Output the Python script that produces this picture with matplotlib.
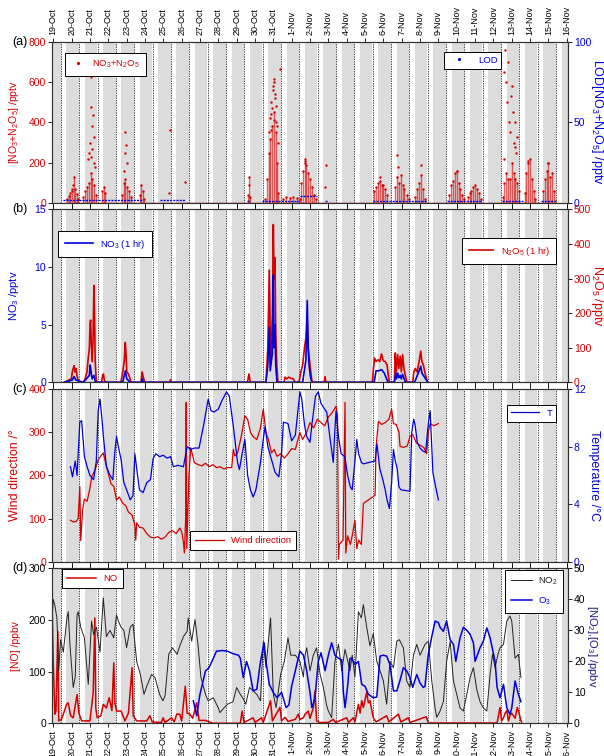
import matplotlib
matplotlib.use('Agg')
import matplotlib.pyplot as plt
from matplotlib.lines import Line2D

plt.rcParams['font.family'] = ['Liberation Sans', 'DejaVu Sans']
plt.rcParams['mathtext.fontset'] = 'custom'
plt.rcParams['mathtext.rm'] = 'Liberation Sans'
plt.rcParams['mathtext.it'] = 'Liberation Sans'

# === data (time = days since 19-Oct 00:00) ===
day_labels = ['19-Oct', '20-Oct', '21-Oct', '22-Oct', '23-Oct', '24-Oct', '25-Oct', '26-Oct',
              '27-Oct', '28-Oct', '29-Oct', '30-Oct', '31-Oct', '1-Nov', '2-Nov', '3-Nov',
              '4-Nov', '5-Nov', '6-Nov', '7-Nov', '8-Nov', '9-Nov', '10-Nov', '11-Nov',
              '12-Nov', '13-Nov', '14-Nov', '15-Nov', '16-Nov']

# (a) NO3+N2O5 dense core (pptv) and scattered high points
tot_t = [0.74, 0.84, 0.94, 1.04, 1.13, 1.2, 1.3, 1.36,
         1.64, 1.74, 1.84, 1.94, 2.04, 2.14, 2.24, 2.34,
         2.65, 2.75, 2.85,
         3.74, 3.84, 3.94, 4.04, 4.14, 4.24,
         4.73, 4.8, 4.9, 4.95,
         10.64, 10.69, 10.74,
         11.54, 11.64, 11.74, 11.84, 11.94, 12.04, 12.14, 12.21, 12.27,
         12.54, 12.7, 12.9, 13.1, 13.3, 13.45,
         13.5, 13.6, 13.7, 13.8, 13.9, 14.0, 14.1, 14.2, 14.3,
         17.5, 17.6, 17.7, 17.8, 17.9, 18.0, 18.1, 18.2,
         18.65, 18.75, 18.85, 18.95, 19.05, 19.15, 19.3, 19.4,
         19.75, 19.85, 19.95, 20.05, 20.15, 20.25,
         21.6, 21.7, 21.8, 21.9, 22.0, 22.1, 22.2, 22.3, 22.4,
         22.6, 22.7, 22.8, 22.9, 23.0, 23.1, 23.2, 23.3,
         24.5, 24.6, 24.7, 24.8, 24.9, 25.0, 25.1, 25.2, 25.3, 25.4,
         25.7, 25.8, 25.9, 26.0, 26.1, 26.2, 26.28,
         26.7, 26.8, 26.9, 27.0, 27.1, 27.2, 27.3]
tot_v = [20, 35, 50, 60, 130, 70, 45, 20,
         30, 60, 80, 100, 150, 120, 90, 40,
         60, 80, 50,
         40, 100, 120, 80, 60, 30,
         40, 90, 60, 20,
         40, 130, 30,
         20, 120, 250, 320, 380, 450, 350, 200, 50,
         20, 30, 25, 30, 25, 20,
         100, 160, 200, 190, 150, 120, 80, 40, 20,
         60, 80, 100, 110, 90, 90, 70, 40,
         80, 130, 100, 140, 90, 70, 40, 20,
         30, 70, 100, 140, 70, 20,
         40, 90, 110, 150, 160, 100, 70, 40, 20,
         30, 50, 60, 80, 90, 70, 50, 20,
         30, 100, 150, 120, 120, 200, 150, 120, 100, 60,
         50, 150, 200, 220, 120, 60, 20,
         60, 120, 160, 200, 130, 150, 60]
out_t = [1.1, 1.0, 2.04, 2.04, 2.18, 2.1, 2.0, 2.2, 1.95, 2.12, 2.22, 1.9, 2.3, 2.08,
         3.93, 3.95, 3.9, 4.0, 3.88, 6.36, 6.3, 7.18, 10.7,
         12.04, 12.06, 12.0, 11.98, 12.1, 11.9, 12.12, 11.8, 11.85, 12.15, 12.2, 11.75,
         12.25, 12.36, 12.08, 11.95, 12.02, 11.88,
         13.7, 13.75, 14.85, 14.83, 17.8, 18.75, 18.8, 20.05, 22.0,
         24.6, 24.65, 24.7, 24.75, 24.8, 24.85, 24.9, 25.0, 25.05, 25.1, 25.15, 25.2,
         25.25, 24.55, 24.95, 25.3, 25.9, 27.0]
out_v = [90, 70, 629, 479, 437, 380, 300, 330, 250, 270, 200, 220, 180, 230,
         354, 290, 250, 200, 160, 362, 50, 105, 90,
         617, 600, 580, 560, 540, 500, 480, 420, 440, 400, 380, 350,
         300, 665, 520, 470, 410, 360,
         220, 210, 190, 80, 130, 240, 180, 190, 160,
         650, 760, 600, 500, 700, 400, 350, 580, 450, 300, 280, 400,
         250, 220, 530, 330, 210, 200]
meas_start = [0.6]
meas_end = [27.4]

# (a) LOD (pptv, right axis)
lod_start = [0.55, 5.8, 10.55, 11.4, 13.45, 14.8, 17.45, 21.45, 24.45, 26.6]
lod_end = [4.9, 7.2, 10.75, 13.4, 14.4, 14.9, 20.4, 23.3, 25.6, 27.4]
lod_level = [1.5, 1.8, 1.2, 1.2, 4.0, 1.0, 1.3, 0.9, 0.9, 0.9]

# (b) 1-hr NO3 (pptv, left) and N2O5 (pptv, right)
n2o5_t = [0.6, 0.99, 1.04, 1.09, 1.14, 1.19, 1.24, 1.29, 1.39,
          1.64, 1.74, 1.84, 1.89, 1.97, 2.01, 2.04, 2.07, 2.12, 2.17, 2.22, 2.25, 2.29, 2.34, 2.39,
          2.64, 2.69, 2.74, 2.79, 2.89,
          3.69, 3.79, 3.87, 3.93, 3.97, 4.01, 4.09, 4.19, 4.24,
          4.79, 4.85, 4.91, 4.99,
          6.34, 6.39, 6.44,
          10.59, 10.67, 10.74,
          11.6, 11.7, 11.78, 11.83, 11.88, 11.95, 12.0, 12.04, 12.09, 12.13, 12.19, 12.25,
          12.59, 12.64, 12.74, 12.84, 12.94, 13.09, 13.19,
          13.4, 13.5, 13.6, 13.7, 13.78, 13.85, 13.9, 13.95, 14.02, 14.1, 14.15,
          14.78, 14.82, 14.87,
          17.4, 17.46, 17.52, 17.6, 17.7, 17.8, 17.9, 18.0, 18.1, 18.2, 18.27, 18.33,
          18.6, 18.65, 18.7, 18.78, 18.84, 18.92, 18.98, 19.05, 19.12, 19.2, 19.28,
          19.6, 19.66, 19.74, 19.84, 19.95, 20.04, 20.1, 20.18, 20.3, 20.42]
n2o5_v = [0, 10, 30, 40, 48, 30, 40, 20, 0,
          0, 10, 30, 60, 100, 170, 180, 120, 60, 120, 280, 200, 60, 10, 0,
          0, 20, 24, 5, 0,
          0, 30, 60, 115, 80, 30, 25, 10, 0,
          0, 30, 15, 0,
          0, 7, 0,
          0, 24, 0,
          0, 100, 324, 150, 60, 200, 456, 300, 360, 150, 50, 0,
          0, 15, 10, 15, 12, 10, 0,
          0, 30, 50, 100, 130, 180, 100, 75, 40, 5, 0,
          0, 16, 0,
          0, 40, 70, 60, 65, 60, 82, 62, 60, 50, 20, 0,
          0, 85, 30, 80, 40, 75, 30, 80, 40, 20, 0,
          0, 30, 40, 30, 60, 90, 60, 50, 20, 0]
no3_t = [0.6, 1.04, 1.14, 1.24, 1.64, 1.97, 2.01, 2.04, 2.12, 2.22, 2.3,
         3.79, 3.93, 4.01, 4.2, 4.79, 4.85, 4.91,
         11.6, 11.7, 11.78, 11.83, 11.95, 12.0, 12.04, 12.09, 12.13, 12.2,
         13.6, 13.78, 13.85, 13.9, 13.95, 14.02, 14.1,
         17.5, 17.6, 17.75, 17.9, 18.05, 18.25,
         18.6, 18.68, 18.72, 18.78, 18.85, 18.92, 18.98, 19.05, 19.2,
         19.7, 19.95, 20.04, 20.1, 20.3, 20.42]
no3_v = [0, 0.2, 0.5, 0.2, 0, 0.6, 1.5, 1.2, 0.3, 0.6, 0,
         0, 1.0, 0.3, 0, 0, 0.3, 0,
         0, 1.5, 4.8, 1.0, 2.5, 9.3, 3.0, 5.0, 1.5, 0,
         0, 2.0, 7.1, 3.0, 1.5, 0.5, 0,
         0, 1.0, 1.0, 1.1, 0.8, 0,
         0, 0.8, 0.3, 0.8, 0.4, 0.6, 0.3, 0.7, 0,
         0, 1.0, 1.4, 0.8, 0.3, 0]

# (c) wind direction (deg) and temperature (degC)
wind_t = [0.94, 1.1, 1.25, 1.36, 1.45, 1.5, 1.6, 1.7, 1.85, 2.0, 2.1, 2.3, 2.45, 2.6, 2.73, 2.85,
          3.0, 3.15, 3.3, 3.45, 3.6, 3.8, 3.95, 4.1, 4.3, 4.45, 4.5, 4.55, 4.7, 4.9, 5.1, 5.3,
          5.5, 5.7, 5.9, 6.1, 6.3, 6.5, 6.7, 6.9, 7.0, 7.1, 7.15, 7.22, 7.25, 7.28, 7.4, 7.5,
          7.7, 7.9, 8.1, 8.3, 8.5, 8.7, 8.9, 9.1, 9.3, 9.5, 9.73, 9.82, 9.9, 10.05, 10.25,
          10.45, 10.6, 10.75, 10.9, 11.1, 11.3, 11.45, 11.6, 11.75, 11.9, 12.05, 12.2, 12.4,
          12.6, 12.8, 13.0, 13.2, 13.45, 13.6, 13.82, 14.0, 14.2, 14.4, 14.6, 14.8, 15.0,
          15.2, 15.42, 15.5, 15.55, 15.6, 15.8, 15.91, 15.95, 16.05, 16.2, 16.3, 16.45,
          16.55, 16.65, 16.8, 16.91, 17.55, 17.6, 17.73, 17.9, 18.1, 18.3, 18.45, 18.55,
          18.7, 18.85, 18.91, 19.1, 19.3, 19.45, 19.6, 19.8, 20.0, 20.2, 20.36, 20.45,
          20.55, 20.75, 21.0]
wind_v = [96, 92, 93, 100, 174, 49, 120, 145, 140, 170, 197, 215, 236, 245, 252, 230,
          205, 180, 175, 143, 150, 135, 130, 115, 108, 85, 50, 90, 80, 78, 65, 57,
          55, 58, 52, 57, 68, 72, 65, 78, 70, 45, 20, 100, 369, 30, 200, 264,
          229, 225, 222, 228, 220, 225, 218, 220, 215, 218, 218, 260, 245, 252, 290,
          338, 330, 300, 290, 283, 310, 353, 300, 280, 252, 260, 244, 250,
          240, 250, 262, 260, 299, 283, 300, 322, 310, 330, 322, 315, 335,
          345, 360, 340, 6, 40, 50, 369, 20, 60, 40, 60, 96,
          30, 50, 40, 135, 154, 264, 325, 318, 322, 330, 353, 320,
          318, 300, 267, 265, 268, 290, 295, 275, 270, 265, 250, 300,
          320, 315, 320]
temp_t = [0.94, 1.05, 1.2, 1.3, 1.45, 1.55, 1.7, 1.85, 2.0, 2.2, 2.35, 2.45, 2.55, 2.65, 2.75,
          2.9, 3.1, 3.25, 3.35, 3.45, 3.55, 3.7, 3.85, 4.0, 4.2, 4.35, 4.45, 4.55, 4.7, 4.9,
          5.1, 5.3, 5.45, 5.6, 5.8, 6.0, 6.2, 6.4, 6.55, 6.8, 7.1, 7.3, 7.5, 7.7, 7.95, 8.2,
          8.45, 8.6, 8.75, 9.0, 9.2, 9.45, 9.6, 9.82, 9.95, 10.05, 10.15, 10.3, 10.45, 10.6,
          10.75, 10.9, 11.05, 11.3, 11.45, 11.55, 11.7, 11.9, 12.1, 12.3, 12.45, 12.55, 12.8,
          13.0, 13.2, 13.45, 13.55, 13.7, 13.82, 14.0, 14.1, 14.3, 14.45, 14.6, 14.8, 14.91,
          15.1, 15.27, 15.35, 15.42, 15.55, 15.7, 15.9, 16.05, 16.2, 16.3, 16.45, 16.55, 16.65,
          16.8, 16.91, 17.55, 17.65, 17.8, 17.95, 18.1, 18.2, 18.33, 18.45, 18.55, 18.65,
          18.75, 18.85, 18.95, 19.45, 19.55, 19.65, 19.73, 19.85, 20.0, 20.15, 20.3, 20.45,
          20.55, 20.62, 20.7, 20.85, 21.0]
temp_v = [6.6, 5.9, 7.0, 6.0, 9.7, 9.8, 7.3, 6.6, 6.0, 5.7, 7.0, 10.5, 11.3, 10.0, 8.5,
          6.6, 6.0, 5.7, 7.5, 8.7, 8.0, 7.1, 5.5, 5.0, 4.3, 4.6, 7.5, 6.5, 5.0, 4.8,
          5.5, 5.7, 7.2, 7.5, 7.3, 7.4, 7.2, 7.3, 6.6, 6.7, 6.6, 8.0, 7.8, 7.9, 7.9, 9.5,
          11.3, 10.5, 10.4, 10.6, 11.2, 11.8, 11.5, 9.4, 8.0, 6.9, 6.4, 7.5, 8.5, 6.0,
          5.0, 4.5, 5.0, 6.9, 8.5, 9.4, 8.0, 7.1, 6.2, 5.9, 7.5, 9.7, 9.6,
          8.4, 8.8, 11.8, 11.3, 9.5, 8.7, 8.3, 9.5, 11.5, 11.8, 11.0, 10.6, 10.4,
          8.5, 6.9, 9.0, 10.5, 8.7, 7.5, 7.3, 6.0, 5.2, 5.0, 7.0, 8.5, 7.5,
          6.9, 6.8, 7.0, 8.2, 6.5, 5.8, 5.0, 4.3, 3.7, 5.5, 7.8, 7.0,
          6.5, 5.2, 5.0, 4.9, 9.0, 9.9, 9.5, 8.3, 7.9, 7.7, 7.6, 9.6,
          10.5, 8.5, 6.2, 5.2, 4.3]

# (d) NO (ppbv, left), NO2 and O3 (ppbv, right)
no_t = [-0.05, 0.0, 0.09, 0.15, 0.25, 0.3, 0.45, 0.73, 0.82, 0.95, 1.09, 1.3, 1.4, 1.55, 2.0,
        2.18, 2.27, 2.32, 2.4, 2.6, 2.73, 2.9, 3.05, 3.2, 3.3, 3.36, 3.45, 3.7, 3.91, 4.1,
        4.3, 4.36, 4.55, 5.1, 5.27, 5.4, 5.9, 5.99, 6.1, 6.45, 6.6, 6.73, 6.9, 7.0, 7.2,
        7.3, 7.45, 7.6, 7.82, 7.95, 8.3, 8.7, 10.2, 10.3, 10.4, 10.9, 11.0, 11.36, 11.45,
        11.85, 11.95, 12.36, 12.45, 12.64, 12.8, 13.2, 13.36, 13.45, 13.64, 13.73, 13.91,
        14.0, 14.18, 14.27, 14.36, 14.5, 15.0, 15.27, 15.4, 16.0, 16.1, 16.36, 16.45,
        16.64, 16.73, 16.82, 16.91, 17.09, 17.18, 17.27, 17.45, 17.6, 18.18, 18.3, 18.82,
        18.95, 19.36, 19.45, 20.34, 20.45, 24.2, 24.36, 24.45, 24.55, 24.64, 24.73, 24.82,
        24.9, 25.0, 25.18, 25.3, 25.4, 25.5, 25.55]
no_v = [210, 120, 18, 24, 178, 5, 8, 37, 40, 15, 11, 56, 20, 5, 5,
        60, 204, 30, 11, 15, 37, 30, 50, 25, 117, 40, 24, 24, 5, 20,
        108, 15, 5, 5, 15, 3, 2, 11, 2, 11, 3, 18, 18, 5, 72,
        20, 18, 10, 40, 6, 6, 0.5, 0.5, 24, 2, 11, 2, 11, 2,
        44, 5, 31, 5, 12, 4, 8, 18, 8, 11, 18, 24,
        10, 30, 63, 5, 2, 2, 8, 2, 11, 2, 11, 3,
        37, 20, 44, 31, 60, 40, 44, 11, 3, 15, 3, 18,
        3, 11, 2, 13, 1, 1, 31, 5, 11, 20, 25, 5,
        15, 20, 10, 31, 20, 5, 1]
no2_t = [-0.05, 0.0, 0.09, 0.2, 0.3, 0.4, 0.55, 0.75, 0.82, 0.91, 1.09, 1.2, 1.3, 1.36, 1.5,
         1.7, 1.91, 2.09, 2.2, 2.36, 2.55, 2.73, 2.9, 3.1, 3.3, 3.45, 3.55, 3.7, 3.85, 4.0,
         4.2, 4.35, 4.55, 4.75, 4.95, 5.1, 5.36, 5.55, 5.8, 5.98, 6.1, 6.3, 6.5, 6.75, 6.9,
         7.1, 7.3, 7.36, 7.55, 7.73, 7.9, 8.05, 8.3, 8.45, 8.73, 9.0, 9.09, 9.3, 9.5, 9.8,
         10.0, 10.2, 10.36, 10.5, 10.7, 10.9, 11.1, 11.3, 11.45, 11.6, 11.85, 12.0, 12.15,
         12.4, 12.6, 12.8, 12.95, 13.2, 13.45, 13.64, 13.73, 13.82, 14.0, 14.18, 14.36,
         14.55, 14.73, 14.9, 15.0, 15.18, 15.36, 15.55, 15.73, 15.91, 16.18, 16.3, 16.45,
         16.64, 16.8, 16.91, 17.09, 17.27, 17.45, 17.64, 17.82, 18.0, 18.18, 18.36, 18.55,
         18.73, 18.87, 19.09, 19.27, 19.45, 19.64, 19.82, 20.0, 20.27, 20.45, 20.64, 20.82,
         20.91, 21.09, 21.27, 21.45, 21.64, 21.82, 22.0, 22.18, 22.36, 22.55, 22.73, 22.91,
         23.09, 23.27, 23.45, 23.64, 23.82, 23.95, 24.09, 24.25, 24.36, 24.55, 24.73, 24.9,
         25.0, 25.18, 25.36, 25.5]
no2_v = [35, 40, 38, 34, 17, 27, 23, 34, 36, 25.5, 11.6, 15, 35, 36, 31,
         27.6, 12.6, 33, 28.7, 31, 23, 40.5, 28, 30, 27.6, 35, 33, 31, 30, 24.4,
         31, 32, 20, 15.8, 9.4, 12, 15.8, 14.8, 9.4, 7.3, 9, 22.3, 24.4, 22.3, 25,
         28, 29.7, 34, 26.5, 33.5, 25, 15, 9.4, 7.3, 8.3, 5, 3.5, 5, 6.2, 7,
         11.6, 9.4, 8, 6.2, 11.6, 10.5, 9.4, 7.3, 26.5, 18, 34, 9.4, 5.1,
         15.8, 20, 27.6, 22, 22, 20, 15, 22, 24.4, 17, 22, 24.4,
         15.8, 11.6, 6, 4, 1.9, 20, 25.5, 17, 23.9, 17, 22, 15,
         36, 34, 38.3, 31, 25, 29, 20, 17, 13.7, 6.2, 20, 18,
         26.5, 27, 24.4, 13.7, 11.6, 22, 25.5, 22, 25.5, 26.5, 13.7, 5,
         2, 4, 7, 20, 26.5, 13.7, 9.4, 5, 4, 9.4, 14.8, 18,
         11, 7, 5, 4, 15.8, 22.3, 18, 22.3, 24.4, 25.5, 33, 34.6,
         33, 21, 22.3, 14.8]
o3_t = [7.64, 7.82, 8.0, 8.3, 8.5, 8.9, 9.2, 9.5, 9.8, 10.1, 10.2, 10.36, 10.54, 10.7, 10.9,
        11.1, 11.3, 11.5, 11.6, 11.78, 12.0, 12.2, 12.45, 12.7, 12.85, 13.0, 13.2, 13.45,
        13.64, 13.82, 14.0, 14.1, 14.27, 14.45, 14.6, 14.82, 15.0, 15.18, 15.36, 15.55,
        15.73, 15.82, 15.91, 16.05, 16.18, 16.27, 16.45, 16.64, 16.82, 17.0, 17.18, 17.45,
        17.64, 17.82, 18.0, 18.18, 18.36, 18.55, 18.73, 18.9, 19.09, 19.27, 19.45, 19.6,
        19.82, 20.0, 20.18, 20.27, 20.45, 20.64, 20.82, 21.0, 21.09, 21.27, 21.45, 21.64,
        21.82, 21.95, 22.18, 22.36, 22.55, 22.73, 22.91, 23.0, 23.27, 23.45, 23.64, 23.82,
        24.09, 24.2, 24.36, 24.55, 24.73, 24.9, 25.0, 25.18, 25.36, 25.5]
o3_v = [7.3, 2.5, 9.4, 16.9, 18, 23.3, 23.5, 23.3, 22.5, 22, 21, 14.8, 20, 17, 10.5,
        11, 20, 26, 20, 12.6, 10, 8.3, 10, 5.1, 6, 12, 17, 23.3,
        22, 17, 10, 5.1, 8, 20, 22.8, 17, 22, 26, 22, 21,
        20.5, 10, 5.1, 12, 21, 21, 19, 20, 12.6, 12, 9.4, 8.3,
        8.5, 21.7, 22, 21.7, 19, 10.5, 10.5, 13.7, 18, 17, 14.8, 11.6,
        15.8, 13, 11.6, 12, 22.3, 28, 33, 32.5, 31, 29.7, 33, 27,
        25.5, 20, 27.6, 31, 30, 28.7, 26, 20, 24.4, 26.5, 30.8, 27.6,
        20, 11.6, 8.3, 12.6, 5, 3, 5, 13.7, 9.4, 7]

# === styling ===
RED = '#d40000'
BLUE = '#0000dd'
GRAY = '#dcdcdc'
FS = 6.8
n_days = len(day_labels) - 1

fig = plt.figure(figsize=(6.04, 7.56), dpi=100)
L, W = 0.0866, 0.8533
ax_a = fig.add_axes([L, 0.7319, W, 0.2122])
ax_b = fig.add_axes([L, 0.4943, W, 0.2288])
ax_c = fig.add_axes([L, 0.2570, W, 0.2284])
ax_d = fig.add_axes([L, 0.0430, W, 0.2053])


def night_bands(ax):
    ax.axvspan(-0.05, 0.40, color=GRAY, lw=0, zorder=0)
    for d in range(n_days):
        ax.axvspan(d + 0.72, min(d + 1.40, 28.05), color=GRAY, lw=0, zorder=0)
        ax.axvline(d + 0.42, color='k', ls=(0, (2, 1.5)), lw=0.5, zorder=0.5)


def style(ax, twin, lcol, rcol, top_labels=False, bottom_labels=False):
    ax.set_xlim(-0.05, 28.05)
    ax.set_xticks(range(len(day_labels)))
    ax.set_xticklabels(day_labels, rotation=90, fontsize=FS - 0.3)
    ax.tick_params(axis='x', which='both', direction='out', length=3, width=0.6,
                   top=True, bottom=True, labeltop=top_labels, labelbottom=bottom_labels, pad=2)
    ax.tick_params(axis='y', direction='out', length=3, width=0.6, labelsize=FS + 0.7,
                   labelcolor=lcol, pad=1.5)
    twin.tick_params(axis='y', direction='out', length=3, width=0.6, labelsize=FS + 0.7,
                     labelcolor=rcol, pad=1.5)
    for a in (ax, twin):
        for s in a.spines.values():
            s.set_linewidth(0.8)
            s.set_color('#333333')


def box_legend(ax, handles, labels, colors, x_px, y_px, **kw):
    leg = ax.legend(handles=handles, labels=labels, labelcolor=colors, fontsize=FS,
                    loc='upper left', bbox_to_anchor=(x_px / 604, 1 - y_px / 756),
                    bbox_transform=fig.transFigure, fancybox=False, edgecolor='k',
                    framealpha=1, borderaxespad=0, **kw)
    leg.get_frame().set_linewidth(0.7)
    return leg


# ---------- (a) ----------
night_bands(ax_a)
ax_a2 = ax_a.twinx()
ax_a.hlines([0] * len(meas_start), meas_start, meas_end, color=RED, lw=1.0, zorder=2)
ax_a.vlines(tot_t, 0, tot_v, color=RED, lw=1.0, alpha=0.6, zorder=2)
ax_a.scatter(tot_t, tot_v, s=3, color=RED, lw=0, zorder=3)
ax_a.scatter(out_t, out_v, s=3, color=RED, lw=0, zorder=3)
ax_a2.hlines(lod_level, lod_start, lod_end, color=BLUE, lw=1.0, linestyles=(0, (1.5, 0.8)))
ax_a.set_ylim(0, 800)
ax_a.set_yticks([0, 200, 400, 600, 800])
ax_a2.set_ylim(0, 100)
ax_a2.set_yticks([0, 50, 100])
ax_a.set_ylabel('[NO$_3$+N$_2$O$_5$] /pptv', color=RED, fontsize=7.5)
ax_a2.set_ylabel('LOD[NO$_3$+N$_2$O$_5$] /pptv', color=BLUE, fontsize=9, rotation=270, labelpad=10)
style(ax_a, ax_a2, RED, BLUE, top_labels=True)
box_legend(ax_a, [Line2D([], [], ls='none', marker='.', ms=2.5, color=RED)],
           ['NO$_3$+N$_2$O$_5$'], RED, 65, 53, handlelength=1.6, handletextpad=0.7,
           borderpad=0.6)
box_legend(ax_a2, [Line2D([], [], ls='none', marker='.', ms=2.5, color=BLUE)],
           ['LOD'], BLUE, 444, 52, handlelength=2.4, borderpad=0.4)

# ---------- (b) ----------
ax_b2 = ax_b.twinx()
ax_b.set_zorder(ax_b2.get_zorder() + 1)
ax_b.patch.set_visible(False)
night_bands(ax_b2)
ax_b2.plot(n2o5_t, n2o5_v, color=RED, lw=1.2)
ax_b.plot(no3_t, no3_v, color=BLUE, lw=1.2)
ax_b.set_ylim(0, 15)
ax_b.set_yticks([0, 5, 10, 15])
ax_b2.set_ylim(0, 500)
ax_b2.set_yticks([0, 100, 200, 300, 400, 500])
ax_b.set_ylabel('NO$_3$ /pptv', color=BLUE, fontsize=8)
ax_b2.set_ylabel('N$_2$O$_5$ /pptv', color=RED, fontsize=9, rotation=270, labelpad=10)
style(ax_b, ax_b2, BLUE, RED)
box_legend(ax_b, [Line2D([], [], color=BLUE, lw=1.2)], ['NO$_3$ (1 hr)'], BLUE, 58, 231,
           handlelength=3, borderpad=0.7)
box_legend(ax_b2, [Line2D([], [], color=RED, lw=1.2)], ['N$_2$O$_5$ (1 hr)'], RED, 462, 238,
           handlelength=2.6, borderpad=0.7)

# ---------- (c) ----------
night_bands(ax_c)
ax_c2 = ax_c.twinx()
ax_c.plot(wind_t, wind_v, color=RED, lw=0.9)
ax_c2.plot(temp_t, temp_v, color=BLUE, lw=0.9)
ax_c.set_ylim(0, 400)
ax_c.set_yticks([0, 100, 200, 300, 400])
ax_c2.set_ylim(0, 12)
ax_c2.set_yticks([0, 4, 8, 12])
ax_c.set_ylabel('Wind direction /\u00b0', color=RED, fontsize=9)
ax_c2.set_ylabel('Temperature /\u00b0C', color=BLUE, fontsize=9, rotation=270, labelpad=10)
style(ax_c, ax_c2, RED, BLUE)
box_legend(ax_c, [Line2D([], [], color=RED, lw=0.9)], ['Wind direction'], RED, 190, 531,
           handlelength=3, borderpad=0.55)
box_legend(ax_c2, [Line2D([], [], color=BLUE, lw=0.9)], ['T'], BLUE, 507, 405,
           handlelength=3, borderpad=0.4)

# ---------- (d) ----------
night_bands(ax_d)
ax_d2 = ax_d.twinx()
ax_d.plot(no_t, no_v, color=RED, lw=1.1)
ax_d2.plot(no2_t, no2_v, color='#222222', lw=0.7)
ax_d2.plot(o3_t, o3_v, color=BLUE, lw=1.1)
ax_d.set_ylim(0, 300)
ax_d.set_yticks([0, 100, 200, 300])
ax_d2.set_ylim(0, 50)
ax_d2.set_yticks([0, 10, 20, 30, 40, 50])
ax_d.set_ylabel('[NO] /ppbv', color=RED, fontsize=7.5)
ax_d2.set_ylabel('[NO$_2$],[O$_3$] /ppbv', color='#1a1a80', fontsize=8, rotation=270, labelpad=10)
style(ax_d, ax_d2, 'k', 'k', bottom_labels=True)
box_legend(ax_d, [Line2D([], [], color=RED, lw=1.1)], ['NO'], RED, 62, 569,
           handlelength=3, borderpad=0.55)
box_legend(ax_d2, [Line2D([], [], color='#222222', lw=0.7), Line2D([], [], color=BLUE, lw=1.1)],
           ['NO$_2$', 'O$_3$'], ['#222222', BLUE], 505, 570,
           handlelength=2.3, handletextpad=0.6, borderpad=0.6, labelspacing=0.9)

for ax, lab in [(ax_a, '(a)'), (ax_b, '(b)'), (ax_c, '(c)'), (ax_d, '(d)')]:
    ax.yaxis.set_label_coords(-0.06, 0.5)
    top = ax.get_position().y1
    fig.text(12 / 604, top, lab, fontsize=9, va='center', ha='left')

fig.savefig('out.png', dpi=100)
